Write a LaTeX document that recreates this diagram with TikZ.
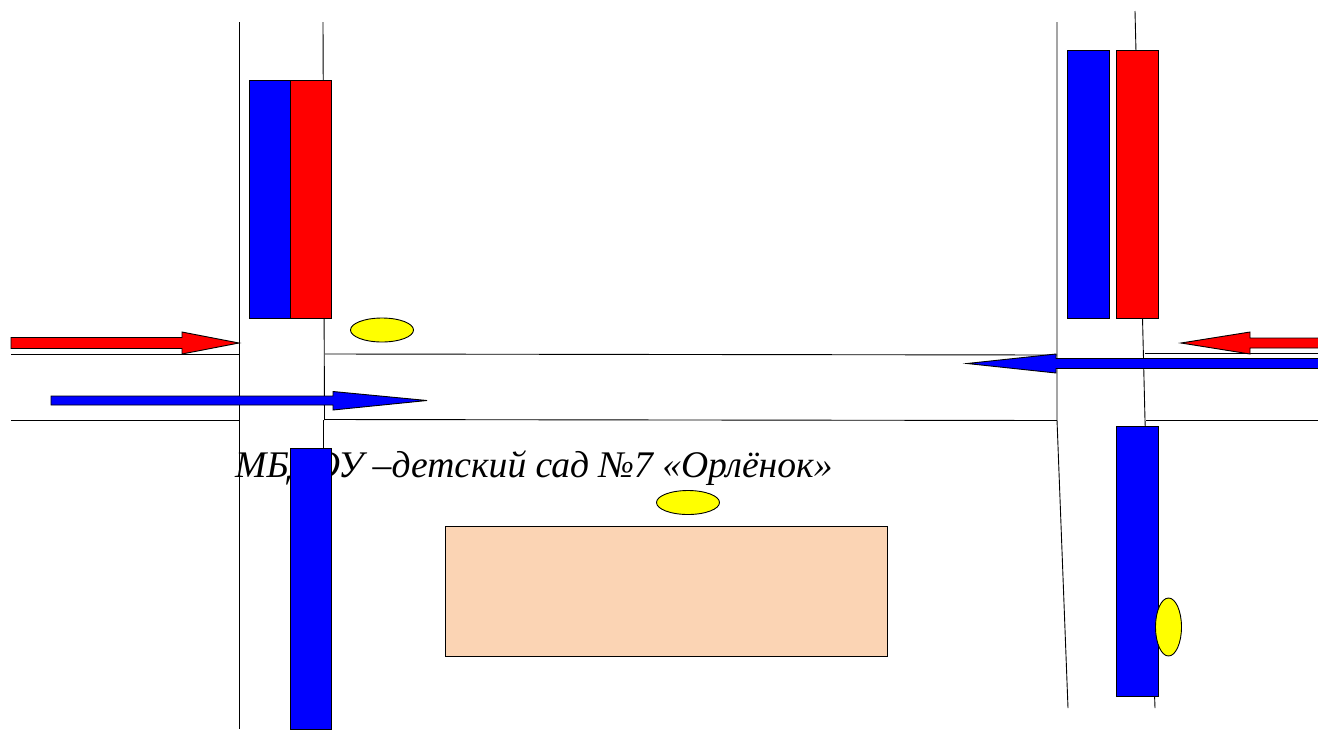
\documentclass[tikz,border=0pt]{standalone}
\usepackage{fontspec}
\setmainfont{Liberation Serif}
\definecolor{peach}{RGB}{251,212,180}
\definecolor{spotyellow}{RGB}{255,255,0}
\definecolor{pureblue}{RGB}{0,0,255}
\definecolor{purered}{RGB}{255,0,0}
\tikzset{
  road/.style={draw=black,line width=0.9pt},
  outlined/.style={draw=black,line width=0.9pt,line join=miter},
  bluebox/.style={outlined,fill=pureblue},
  redbox/.style={outlined,fill=purered},
  spot/.style={outlined,fill=spotyellow},
  building/.style={outlined,fill=peach}
}
\begin{document}
\begin{tikzpicture}[x=1pt,y=-1pt]
\useasboundingbox (0,0) rectangle (1318,729);
% roads
\draw[road] (239,22) -- (239,729);
\draw[road] (323,22) -- (324.5,420);
\draw[road] (323,420) -- (323,450);
\draw[road] (11,354) -- (239,354);
\draw[road] (325,354) -- (1057,355);
\draw[road] (11,420) -- (239,420);
\draw[road] (325,419.5) -- (1057,420.5);
\draw[road] (1057,22) -- (1057,420) -- (1068,708);
\draw[road] (1135,11) -- (1145,420);
\draw[road] (1145,420) -- (1155,708);
\draw[road] (1145,353.5) -- (1318,353.5);
\draw[road] (1146,420) -- (1318,420);
% label
\node[inner sep=0pt,anchor=base west] (label) at (235,477) {\fontsize{37.6}{42}\selectfont\itshape МБДОУ –детский сад №7 «Орлёнок»};
% crossings
\draw[bluebox] (249,80) rectangle (290,318);
\draw[redbox] (290,80) rectangle (331.5,318);
\draw[bluebox] (1067,50) rectangle (1109,318);
\draw[redbox] (1116,50) rectangle (1158,318);
\draw[bluebox] (290,448) rectangle (331.5,729);
\draw[bluebox] (1116,426) rectangle (1158,696);
% building
\draw[building] (445,526) rectangle (887,656);
% spots
\draw[spot] (382,330) ellipse [x radius=31.5,y radius=12];
\draw[spot] (688,502.5) ellipse [x radius=31.5,y radius=12];
\draw[spot] (1168.5,627) ellipse [x radius=13,y radius=29];
% arrows
\draw[redbox] (11,337.5) -- (182,337.5) -- (182,332) -- (239,343) -- (182,354) -- (182,348.5) -- (11,348.5) -- cycle;
\draw[bluebox] (51,396) -- (333,396) -- (333,391.5) -- (427,400.5) -- (333,410) -- (333,405) -- (51,405) -- cycle;
\draw[redbox] (1318,338) -- (1250,338) -- (1250,332) -- (1181,343) -- (1250,354) -- (1250,348) -- (1318,348);
\draw[bluebox] (1318,358.5) -- (1056,358.5) -- (1056,354) -- (967,363.5) -- (1056,373) -- (1056,368.5) -- (1318,368.5);
\end{tikzpicture}
\end{document}
